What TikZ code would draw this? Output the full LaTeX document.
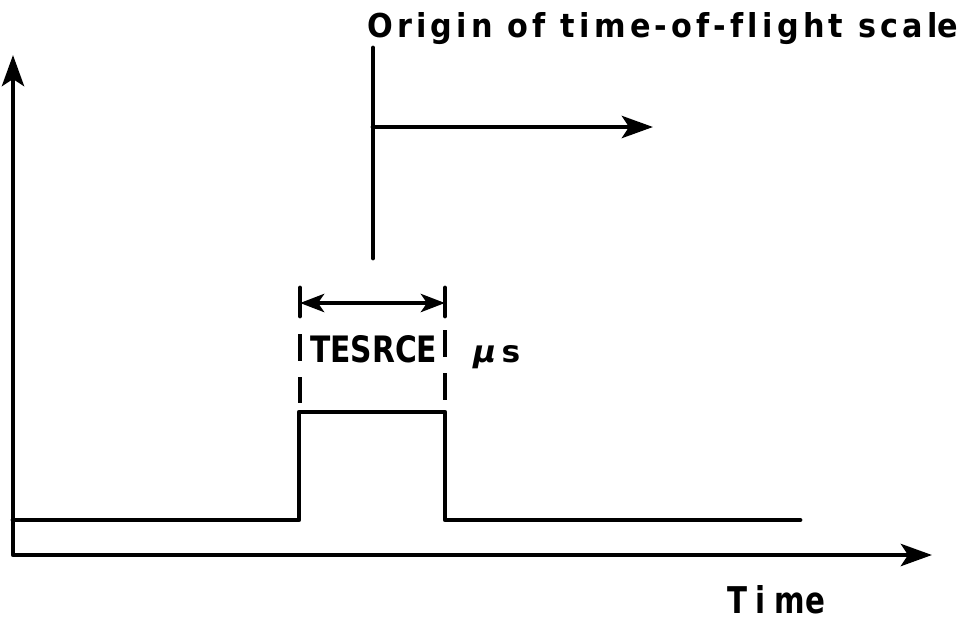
\documentclass[tikz,border=0pt]{standalone}
\usepackage{fontspec}
\usepackage{graphicx}
\setmainfont{DejaVu Sans}[Ligatures=NoCommon]
\usetikzlibrary{arrows.meta}

% set a text at a fixed width and height (height above the baseline)
\newcommand{\fitText}[3]{\resizebox{#1}{#2}{#3}}

\begin{document}
\begin{tikzpicture}[
  x=1pt, y=-1pt,
  stroke/.style={line width=4.8pt, line cap=round, line join=round},
  >={Stealth[length=31pt, width=22pt, inset=7pt]},
  dimtip/.style={>={Stealth[length=24pt, width=18pt, inset=6pt]}},
  gap/.style={stroke, line cap=butt, dash pattern=on 27pt off 16pt},
  lettering/.style={inner sep=0pt, anchor=base west},
]
\useasboundingbox (0,0) rectangle (963,622);

% axes
\coordinate (orig) at (13,555);
\coordinate (ytip) at (13,55);
\coordinate (xtip) at (932,555);
\draw[stroke, <->] (ytip) -- (orig) -- (xtip);

% source pulse on its baseline
\coordinate (p0) at (13,520);
\coordinate (p1) at (299,520);
\coordinate (p2) at (299,412);
\coordinate (p3) at (445,412);
\coordinate (p4) at (445,520);
\coordinate (p5) at (800,520);
\draw[stroke] (p0) -- (p1) -- (p2) -- (p3) -- (p4) -- (p5);

% pulse width marker
\coordinate (dl) at (300,303);
\coordinate (dr) at (445,303);
\draw[stroke, dimtip, <->] (dl) -- (dr);
\draw[stroke] ([yshift=-13pt]dl) -- ([yshift=15pt]dl);
\draw[stroke] ([yshift=-13pt]dr) -- ([yshift=15pt]dr);
\coordinate (gl0) at (300,334);
\coordinate (gl1) at (300,403);
\coordinate (gr0) at (445,330);
\coordinate (gr1) at (445,403);
\draw[gap] (gl0) -- (gl1);
\draw[gap] (gr0) -- (gr1);

\node[lettering, font=\bfseries] (width) at (310,362) {\fitText{127pt}{27pt}{TESRCE}};
\node[lettering, font=\bfseries] (unit) at (473,362)
  {\fitText{47pt}{17pt}{\textit{μ}\,\addfontfeature{LetterSpace=12}s}};

% origin of the time-of-flight scale
\coordinate (o1) at (373,48);
\coordinate (o2) at (373,258);
\coordinate (o3) at (373,127);
\coordinate (o4) at (653,127);
\draw[stroke] (o1) -- (o2);
\draw[stroke, ->] (o3) -- (o4);

\node[lettering] (title) at (367,37)
  {\fitText{591pt}{25pt}{\bfseries\addfontfeature{LetterSpace=14}Origin of time-of-flight scal\addfontfeature{LetterSpace=0}e}};

\node[lettering] (time) at (727,613)
  {\fitText{98pt}{28pt}{\bfseries\addfontfeature{LetterSpace=30}Tim\addfontfeature{LetterSpace=0}e}};
\end{tikzpicture}
\end{document}
